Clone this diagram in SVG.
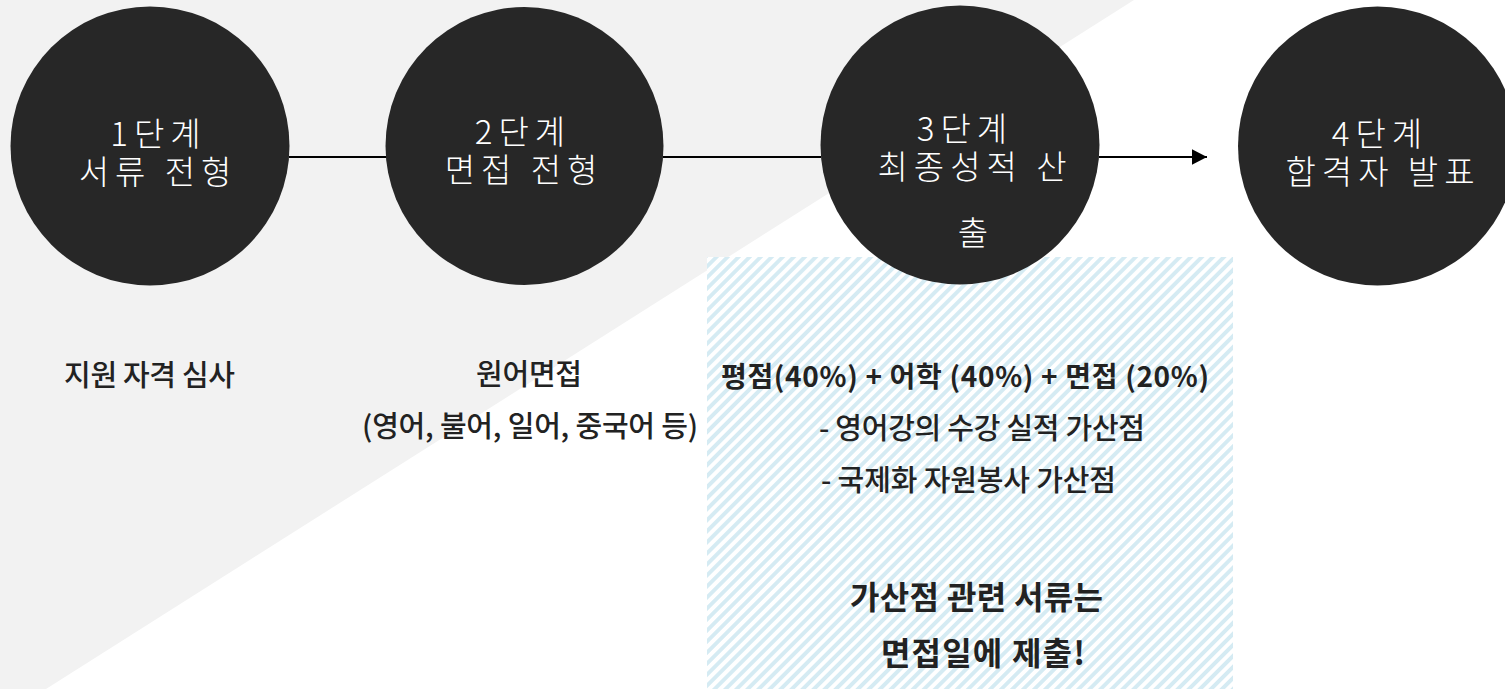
<svg xmlns="http://www.w3.org/2000/svg" width="1505" height="689" viewBox="0 0 1505 689">
  <style>
    .circ { fill: #272727; }
    .ct { font-family: "Noto Sans CJK KR", "Noto Sans", sans-serif; font-size: 33px; font-weight: 300; fill: #ffffff; letter-spacing: 6px; text-anchor: middle; }
    .bt { font-family: "Noto Sans CJK KR", "Noto Sans", sans-serif; font-size: 29px; font-weight: 500; fill: #222222; }
    .bb { font-family: "Noto Sans CJK KR", "Noto Sans", sans-serif; font-size: 28px; font-weight: 700; fill: #222222; }
    .bl { font-family: "Noto Sans CJK KR", "Noto Sans", sans-serif; font-size: 32px; font-weight: 700; fill: #222222; }
    .conn { stroke: #000000; stroke-width: 2; fill: none; }
  </style>
  <defs>
    <pattern id="hatch" patternUnits="userSpaceOnUse" width="7.8" height="7.8" patternTransform="rotate(45)">
      <rect x="0" y="0" width="3.9" height="7.8" fill="#d5ebf3"/>
    </pattern>
    <marker id="arrow" markerUnits="userSpaceOnUse" markerWidth="16" markerHeight="16" refX="15.5" refY="8" orient="auto">
      <path d="M0,0 L15.5,8 L0,16 z" fill="#000000"/>
    </marker>
  </defs>

  <g id="background">
    <rect x="0" y="0" width="1505" height="689" fill="#ffffff"/>
    <polygon points="0,0 1134,0 46,689 0,689" fill="#f2f2f2"/>
  </g>

  <g id="score-box">
    <rect x="707" y="257" width="526" height="432" fill="#ffffff"/>
    <rect x="707" y="257" width="526" height="432" fill="url(#hatch)"/>
  </g>

  <g id="connectors">
    <line class="conn" x1="289" y1="157" x2="387" y2="157"/>
    <line class="conn" x1="663" y1="157" x2="821" y2="157"/>
    <line class="conn" x1="1099" y1="157" x2="1207" y2="157" marker-end="url(#arrow)"/>
  </g>

  <g id="step1">
    <circle class="circ" cx="150" cy="146" r="139.5"/>
    <text class="ct" x="158.5" y="146">1단계</text>
    <text class="ct" x="158" y="184">서류 전형</text>
  </g>

  <g id="step2">
    <circle class="circ" cx="524.5" cy="146" r="139"/>
    <text class="ct" x="523" y="144">2단계</text>
    <text class="ct" x="524" y="182">면접 전형</text>
  </g>

  <g id="step3">
    <circle class="circ" cx="960" cy="145" r="139.5"/>
    <text class="ct" x="965" y="141">3단계</text>
    <text class="ct" x="975" y="179">최종성적 산</text>
    <text class="ct" x="976" y="245">출</text>
  </g>

  <g id="step4">
    <circle class="circ" cx="1377.5" cy="146" r="139.5"/>
    <text class="ct" x="1380" y="146">4단계</text>
    <text class="ct" x="1383" y="184">합격자 발표</text>
  </g>

  <g id="desc1">
    <text class="bt" x="64" y="386" textLength="171" lengthAdjust="spacing">지원 자격 심사</text>
  </g>

  <g id="desc2">
    <text class="bt" x="476" y="385" textLength="106" lengthAdjust="spacing">원어면접</text>
    <text class="bt" x="362" y="437" textLength="336" lengthAdjust="spacing">(영어, 불어, 일어, 중국어 등)</text>
  </g>

  <g id="desc3">
    <text class="bb" x="721" y="387" textLength="488" lengthAdjust="spacing">평점(40%) + 어학 (40%) + 면접 (20%)</text>
    <text class="bt" x="819" y="439" textLength="326" lengthAdjust="spacing">- 영어강의 수강 실적 가산점</text>
    <text class="bt" x="821" y="491" textLength="295" lengthAdjust="spacing">- 국제화 자원봉사 가산점</text>
    <text class="bl" x="850" y="609" textLength="253" lengthAdjust="spacing">가산점 관련 서류는</text>
    <text class="bl" x="881" y="665" textLength="204" lengthAdjust="spacing">면접일에 제출!</text>
  </g>
</svg>
